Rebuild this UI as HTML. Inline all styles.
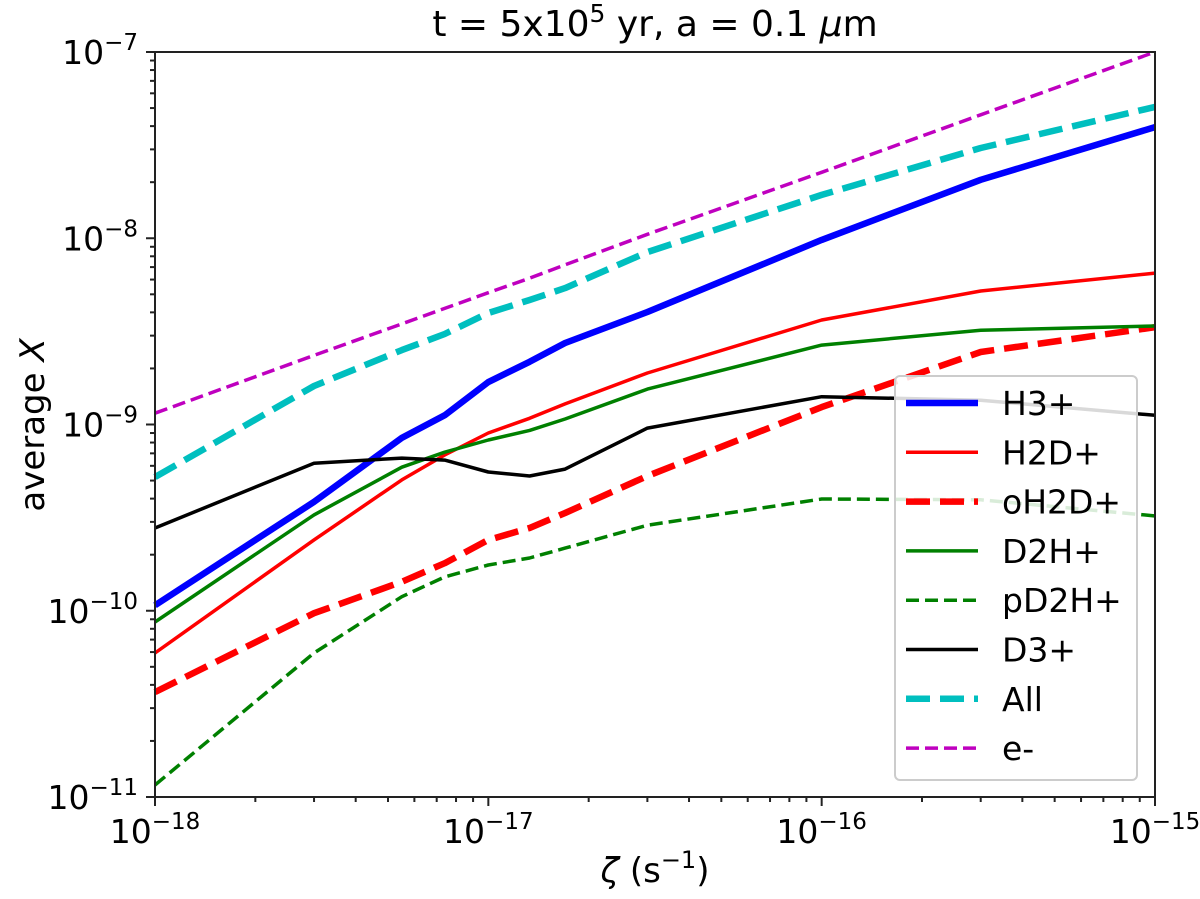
<!DOCTYPE html>
<html><head><meta charset="utf-8">
<style>
html,body{margin:0;padding:0;background:#fff;}
svg{display:block;font-family:"DejaVu Sans","Liberation Sans",sans-serif;}
</style></head>
<body>
<svg id="chart" width="1200" height="899" viewBox="0 0 1200 899">
<text x="655" y="36" font-size="36" text-anchor="middle">t = 5x10<tspan dy="-14" font-size="25">5</tspan><tspan dy="14"> yr, a = 0.1 </tspan><tspan font-style="italic">μ</tspan>m</text>
<text transform="translate(44,425) rotate(-90)" font-size="34" text-anchor="middle">average <tspan font-style="italic">X</tspan></text>
<text x="655" y="882" font-size="34" text-anchor="middle"><tspan font-style="italic">ζ</tspan> (s<tspan dy="-14" font-size="24">−1</tspan><tspan dy="14">)</tspan></text>
<g id="ticks"></g>
<g id="series"></g>
<rect x="155" y="52" width="1000" height="745" fill="none" stroke="#222" stroke-width="2"/>
<g id="legend"></g>
</svg>
<script>
const xVals = [1e-18, 3e-18, 5.5e-18, 7.4e-18, 1e-17, 1.33e-17, 1.7e-17, 3e-17, 1e-16, 3e-16, 1e-15];
const h3p   = [1.07e-10, 3.84e-10, 8.47e-10, 1.12e-9, 1.69e-9, 2.17e-9, 2.74e-9, 4.02e-9, 9.8e-9, 2.06e-8, 3.95e-8];
const h2dp  = [5.93e-11, 2.40e-10, 5.04e-10, 6.86e-10, 9.0e-10, 1.08e-9, 1.29e-9, 1.89e-9, 3.64e-9, 5.21e-9, 6.5e-9];
const oh2dp = [3.66e-11, 9.7e-11, 1.43e-10, 1.80e-10, 2.40e-10, 2.78e-10, 3.35e-10, 5.29e-10, 1.24e-9, 2.45e-9, 3.33e-9];
const d2hp  = [8.7e-11, 3.27e-10, 5.9e-10, 7.1e-10, 8.26e-10, 9.3e-10, 1.07e-9, 1.55e-9, 2.67e-9, 3.21e-9, 3.38e-9];
const pd2hp = [1.16e-11, 5.93e-11, 1.19e-10, 1.52e-10, 1.76e-10, 1.92e-10, 2.17e-10, 2.88e-10, 3.98e-10, 3.94e-10, 3.23e-10];
const d3p   = [2.78e-10, 6.2e-10, 6.6e-10, 6.44e-10, 5.56e-10, 5.29e-10, 5.76e-10, 9.57e-10, 1.41e-9, 1.35e-9, 1.12e-9];
const allIons = [5.22e-10, 1.61e-9, 2.51e-9, 3.06e-9, 3.97e-9, 4.66e-9, 5.4e-9, 8.43e-9, 1.71e-8, 3.05e-8, 5.07e-8];
const elec  = [1.15e-9, 2.35e-9, 3.47e-9, 4.2e-9, 5.1e-9, 6.1e-9, 7.2e-9, 1.05e-8, 2.26e-8, 4.6e-8, 1e-7];
const xTickExps = [-18, -17, -16, -15];
const yTickExps = [-11, -10, -9, -8, -7];

const NS = "http://www.w3.org/2000/svg";
const L = 155, R = 1155, T = 52, B = 797;
const xMin = -18, xMax = -15, yMin = -11, yMax = -7;
function xs(v){ return L + (Math.log10(v) - xMin) / (xMax - xMin) * (R - L); }
function ys(v){ return B - (Math.log10(v) - yMin) / (yMax - yMin) * (B - T); }
function mk(tag, attrs, parent){ const e = document.createElementNS(NS, tag); for (const k in attrs) e.setAttribute(k, attrs[k]); parent.appendChild(e); return e; }

const tg = document.getElementById('ticks');
for (let d = xMin; d <= xMax; d++) {
  for (let m = 1; m < 10; m++) {
    if (d === xMax && m > 1) break;
    const x = xs(m * Math.pow(10, d));
    const len = m === 1 ? 9 : 5;
    const t = mk('line', {x1:x, x2:x, y1:B, y2:B+len, stroke:'#222', 'stroke-width':2}, tg);
    
    
  }
}
xTickExps.forEach(e => {
  const x = xs(Math.pow(10, e));
  const t = mk('text', {x:x, y:843, 'font-size':33, 'text-anchor':'middle'}, tg);
  
  
  t.innerHTML = '10<tspan dy="-14" font-size="23">−' + (-e) + '</tspan>';
});
for (let d = yMin; d <= yMax; d++) {
  for (let m = 1; m < 10; m++) {
    if (d === yMax && m > 1) break;
    const y = ys(m * Math.pow(10, d));
    const len = m === 1 ? 9 : 5;
    const t = mk('line', {x1:L-len, x2:L, y1:y, y2:y, stroke:'#222', 'stroke-width':2}, tg);
    
    
  }
}
yTickExps.forEach(e => {
  const y = ys(Math.pow(10, e));
  const t = mk('text', {x:138, y:y+12, 'font-size':33, 'text-anchor':'end'}, tg);
  
  
  t.innerHTML = '10<tspan dy="-14" font-size="23">−' + (-e) + '</tspan>';
});

const seriesDefs = [
  {label:'H3+', data:h3p, color:'#0000ff', w:6.5, dash:null, name:'h3-plus'},
  {label:'H2D+', data:h2dp, color:'#ff0000', w:3.5, dash:null, name:'h2d-plus'},
  {label:'oH2D+', data:oh2dp, color:'#ff0000', w:6.5, dash:'24,10', name:'oh2d-plus'},
  {label:'D2H+', data:d2hp, color:'#008000', w:3.5, dash:null, name:'d2h-plus'},
  {label:'pD2H+', data:pd2hp, color:'#008000', w:3.5, dash:'13,6', name:'pd2h-plus'},
  {label:'D3+', data:d3p, color:'#000000', w:3.5, dash:null, name:'d3-plus'},
  {label:'All', data:allIons, color:'#00bfbf', w:6.5, dash:'24,10', name:'all-ions'},
  {label:'e-', data:elec, color:'#bf00bf', w:3.5, dash:'13,6', name:'electrons'}
];
const sg = document.getElementById('series');
seriesDefs.forEach(s => {
  const pts = s.data.map((v,i) => xs(xVals[i]).toFixed(1) + ',' + ys(v).toFixed(1)).join(' ');
  const p = mk('polyline', {points:pts, fill:'none', stroke:s.color, 'stroke-width':s.w, 'stroke-linejoin':'round'}, sg);
  if (s.dash) p.setAttribute('stroke-dasharray', s.dash);
  
  
});

const lg = document.getElementById('legend');
const box = mk('rect', {x:895, y:376, width:242, height:404, rx:5, fill:'#fff', 'fill-opacity':0.85, stroke:'#ccc', 'stroke-width':2}, lg);


seriesDefs.forEach((s,i) => {
  const y = 403 + i * 49.3;
  const ln = mk('line', {x1:906, x2:978, y1:y, y2:y, stroke:s.color, 'stroke-width':s.w}, lg);
  if (s.dash) ln.setAttribute('stroke-dasharray', s.dash);
  
  
  const tx = mk('text', {x:1002, y:y+12, 'font-size':33}, lg);
  tx.textContent = s.label;
  
  
});
</script>
</body></html>
